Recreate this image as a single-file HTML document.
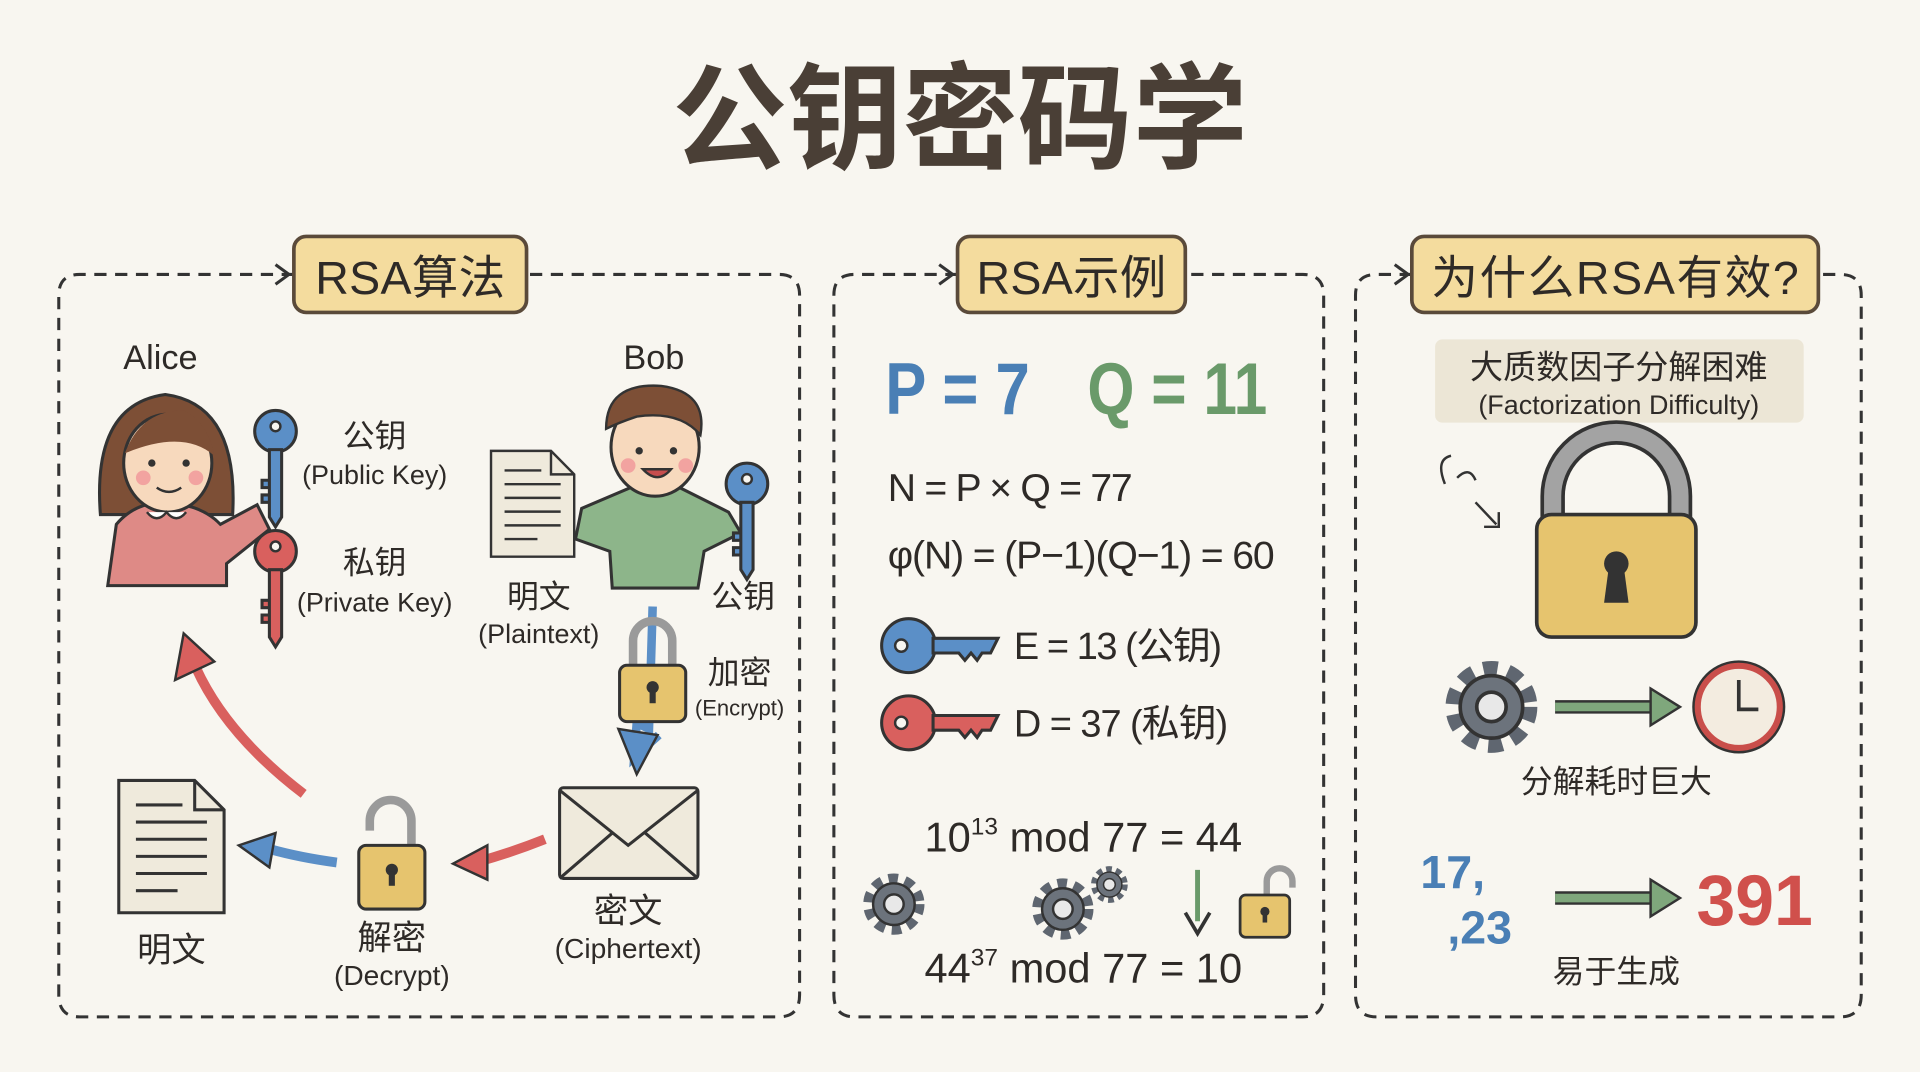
<!DOCTYPE html>
<html><head><meta charset="utf-8"><style>
html,body{margin:0;padding:0;background:#f8f6f0;}
svg{display:block}
text{font-family:"Liberation Sans","Noto Sans CJK SC",sans-serif;fill:#2e2a27}
</style></head><body>
<svg width="1920" height="1072" viewBox="0 0 1568 875" preserveAspectRatio="none" xmlns="http://www.w3.org/2000/svg">
<defs>
<g id="gear"><circle r="19" fill="none" stroke="#5f6670" stroke-width="12" stroke-dasharray="7 5.2"/><circle r="17" fill="#6c737c" stroke="#333" stroke-width="2"/><circle r="8" fill="#e8e8e8" stroke="#333" stroke-width="2"/></g>
<g id="lock"><path d="M-16,0 V-22 A16,16 0 0 1 16,-22 V0" fill="none" stroke="#9a9a9a" stroke-width="7"/><rect x="-27" y="-2" width="54" height="46" rx="6" fill="#e6c46e" stroke="#333" stroke-width="2.5"/><circle cx="0" cy="16" r="5" fill="#333"/><rect x="-2.5" y="17" width="5" height="12" fill="#333"/></g>
<g id="doc"><path d="M0,0 H62 L86,24 V108 H0 Z" fill="#efeadc" stroke="#333" stroke-width="2.5"/><path d="M62,0 V24 H86" fill="none" stroke="#333" stroke-width="2.5"/><g stroke="#333" stroke-width="2.5"><line x1="14" y1="20" x2="52" y2="20"/><line x1="14" y1="34" x2="72" y2="34"/><line x1="14" y1="48" x2="72" y2="48"/><line x1="14" y1="62" x2="72" y2="62"/><line x1="14" y1="76" x2="72" y2="76"/><line x1="14" y1="90" x2="48" y2="90"/></g></g>
<g id="hkey"><circle cx="0" cy="0" r="22" stroke="#333" stroke-width="2.5"/><circle cx="-6" cy="0" r="5" fill="#f8f6f0" stroke="#333" stroke-width="2"/><path d="M20,-6 H73 L67,6 H60 L56,12 L51,6 L46,12 L41,6 H20 Z" stroke="#333" stroke-width="2.5"/></g>
<g id="vkey"><circle cx="0" cy="0" r="17" stroke="#333" stroke-width="2.5"/><circle cx="0" cy="-4" r="4" fill="#f8f6f0" stroke="#333" stroke-width="2"/><path d="M-5,15 V70 L0,78 L5,70 V15 Z M-5,40 H-11 V46 H-5 M-5,52 H-11 V58 H-5" stroke="#333" stroke-width="2.5"/></g>
</defs>
<rect width="1568" height="875" fill="#f8f6f0"/>
<text x="784" y="130" font-size="94" font-weight="bold" text-anchor="middle" style="fill:#4a3f36">公钥密码学</text>

<g fill="none" stroke="#333" stroke-width="2.5" stroke-dasharray="10 7">
<path d="M240,224 H65 Q48,224 48,241 V812 Q48,830 65,830 H636 Q653,830 653,812 V241 Q653,224 636,224 H430"/>
<path d="M782,224 H698 Q681,224 681,241 V812 Q681,830 698,830 H1064 Q1081,830 1081,812 V241 Q1081,224 1064,224 H968"/>
<path d="M1153,224 H1124 Q1107,224 1107,241 V812 Q1107,830 1124,830 H1503 Q1520,830 1520,812 V241 Q1520,224 1503,224 H1485"/>
</g>
<g fill="none" stroke="#333" stroke-width="2.5"><path d="M225,216 L236,224 L225,232"/><path d="M767,216 L778,224 L767,232"/><path d="M1139,216 L1150,224 L1139,232"/></g>
<g fill="#f4dc9e" stroke="#5a4a3a" stroke-width="3">
<rect x="240" y="193" width="190" height="62" rx="10"/><rect x="782" y="193" width="186" height="62" rx="10"/><rect x="1153" y="193" width="332" height="62" rx="10"/></g>
<text x="335" y="240" font-size="38" text-anchor="middle" textLength="155">RSA算法</text>
<text x="875" y="240" font-size="38" text-anchor="middle" textLength="155">RSA示例</text>
<text x="1319" y="240" font-size="38" text-anchor="middle" textLength="300">为什么RSA有效?</text>

<text x="131" y="301" font-size="28" text-anchor="middle">Alice</text>
<text x="534" y="301" font-size="28" text-anchor="middle">Bob</text>
<path d="M82,420 Q75,330 135,322 Q195,330 190,420 Z" fill="#7d4f36" stroke="#333" stroke-width="2.5"/>
<path d="M88,478 L95,428 Q110,410 135,410 Q165,412 180,428 L210,412 L220,432 L185,460 L185,478 Z" fill="#de8a86" stroke="#333" stroke-width="2.5"/>
<ellipse cx="137" cy="378" rx="36" ry="40" fill="#f7d9bd" stroke="#333" stroke-width="2.5"/>
<path d="M102,370 Q115,335 150,335 Q170,345 175,372 Q150,350 102,370Z" fill="#7d4f36"/>
<circle cx="124" cy="378" r="3" fill="#333"/><circle cx="152" cy="378" r="3" fill="#333"/>
<circle cx="117" cy="390" r="6" fill="#f2a3a0"/><circle cx="160" cy="390" r="6" fill="#f2a3a0"/>
<path d="M128,398 Q138,405 148,398" fill="none" stroke="#333" stroke-width="2"/>
<path d="M120,418 Q128,428 136,418 Q144,428 152,418" fill="#fff" stroke="#333" stroke-width="2"/>
<use href="#vkey" x="225" y="352" fill="#5b8fc7"/>
<use href="#vkey" x="225" y="450" fill="#d9605e"/>
<text x="306" y="365" font-size="26" text-anchor="middle">公钥</text>
<text x="306" y="395" font-size="22" text-anchor="middle">(Public Key)</text>
<text x="306" y="468" font-size="26" text-anchor="middle">私钥</text>
<text x="306" y="499" font-size="22" text-anchor="middle">(Private Key)</text>
<g transform="translate(401,368) scale(0.79,0.8)"><use href="#doc"/></g>
<path d="M475,415 L515,398 Q535,392 555,398 L595,418 L605,435 L575,450 L570,480 L500,480 L498,450 L470,440 Z" fill="#8db58a" stroke="#333" stroke-width="2.5"/>
<ellipse cx="535" cy="365" rx="36" ry="40" fill="#f7d9bd" stroke="#333" stroke-width="2.5"/>
<path d="M495,350 Q495,312 540,315 Q578,320 572,355 Q555,335 520,340 Q505,345 495,350Z" fill="#7d4f36" stroke="#333" stroke-width="2"/>
<circle cx="522" cy="368" r="3" fill="#333"/><circle cx="550" cy="368" r="3" fill="#333"/>
<circle cx="513" cy="380" r="6" fill="#f2a3a0"/><circle cx="560" cy="380" r="6" fill="#f2a3a0"/>
<path d="M525,383 Q537,396 548,383 Z" fill="#c74e4e" stroke="#333" stroke-width="2"/>
<use href="#vkey" x="610" y="395" fill="#5b8fc7"/>
<text x="440" y="496" font-size="26" text-anchor="middle">明文</text>
<text x="440" y="525" font-size="22" text-anchor="middle">(Plaintext)</text>
<text x="607" y="496" font-size="26" text-anchor="middle">公钥</text>
<path d="M533,495 L530,595 L520,590 L518,618 L538,600" fill="none" stroke="#5b8fc7" stroke-width="7"/>
<path d="M505,595 L520,632 L537,600 Z" fill="#5b8fc7" stroke="#333" stroke-width="2"/>
<use href="#lock" x="533" y="545"/>
<text x="604" y="558" font-size="26" text-anchor="middle">加密</text>
<text x="604" y="584" font-size="18" text-anchor="middle">(Encrypt)</text>
<rect x="457" y="643" width="113" height="74" rx="3" fill="#efeadc" stroke="#333" stroke-width="2.5"/>
<path d="M457,645 L513,690 L570,645 M457,717 L500,680 M570,717 L527,680" fill="none" stroke="#333" stroke-width="2.5"/>
<text x="513" y="753" font-size="28" text-anchor="middle">密文</text>
<text x="513" y="782" font-size="23" text-anchor="middle">(Ciphertext)</text>
<path d="M445,685 Q420,695 392,703" fill="none" stroke="#d9605e" stroke-width="8"/>
<path d="M398,690 L370,705 L398,718 Z" fill="#d9605e" stroke="#333" stroke-width="2"/>
<g transform="translate(320,700)"><path d="M-14,0 V-30 A17,17 0 0 0 -48,-30 V-22" fill="none" stroke="#9a9a9a" stroke-width="7" transform="translate(30,0)"/><rect x="-27" y="-10" width="54" height="52" rx="6" fill="#e6c46e" stroke="#333" stroke-width="2.5"/><circle cx="0" cy="10" r="5" fill="#333"/><rect x="-2.5" y="11" width="5" height="12" fill="#333"/></g>
<text x="320" y="775" font-size="28" text-anchor="middle">解密</text>
<text x="320" y="804" font-size="23" text-anchor="middle">(Decrypt)</text>
<path d="M275,704 Q245,700 220,693" fill="none" stroke="#5b8fc7" stroke-width="8"/>
<path d="M225,680 L195,690 L220,708 Z" fill="#5b8fc7" stroke="#333" stroke-width="2"/>
<use href="#doc" x="97" y="637"/>
<text x="140" y="785" font-size="28" text-anchor="middle">明文</text>
<path d="M248,648 Q185,600 160,545" fill="none" stroke="#d9605e" stroke-width="8"/>
<path d="M143,555 L150,517 L175,540 Z" fill="#d9605e" stroke="#333" stroke-width="2"/>

<text x="723" y="338" font-size="60" style="fill:#4a7fb5" font-weight="bold" textLength="118" lengthAdjust="spacingAndGlyphs">P = 7</text>
<text x="888" y="338" font-size="60" style="fill:#6a9a6a" font-weight="bold" textLength="147" lengthAdjust="spacingAndGlyphs">Q = 11</text>
<text x="725" y="409" font-size="32" textLength="200">N = P × Q = 77</text>
<text x="725" y="464" font-size="32" textLength="316">φ(N) = (P−1)(Q−1) = 60</text>
<use href="#hkey" x="742" y="527" fill="#5b8fc7"/>
<text x="828" y="538" font-size="31" textLength="170">E = 13 (公钥)</text>
<use href="#hkey" x="742" y="590" fill="#d9605e"/>
<text x="828" y="601" font-size="31" textLength="175">D = 37 (私钥)</text>
<text x="755" y="695" font-size="34">10<tspan font-size="20" dy="-14">13</tspan><tspan dy="14"> mod 77 = 44</tspan></text>
<use href="#gear" x="730" y="738"/>
<use href="#gear" x="868" y="742"/>
<g transform="translate(906,722) scale(0.6)"><use href="#gear"/></g>
<path d="M978,710 V752" stroke="#6a9a6a" stroke-width="4"/><path d="M968,745 L978,762 L988,745" fill="none" stroke="#333" stroke-width="3"/>
<g transform="translate(1033,738) scale(0.75)"><path d="M2,-10 V-25 A14,14 0 0 1 30,-25 V-18" fill="none" stroke="#9a9a9a" stroke-width="7"/><rect x="-27" y="-10" width="54" height="46" rx="6" fill="#e6c46e" stroke="#333" stroke-width="3"/><circle cx="0" cy="8" r="5" fill="#333"/><rect x="-2.5" y="9" width="5" height="11" fill="#333"/></g>
<text x="755" y="802" font-size="34">44<tspan font-size="20" dy="-14">37</tspan><tspan dy="14"> mod 77 = 10</tspan></text>

<rect x="1172" y="277" width="301" height="68" rx="6" fill="#ece6d6"/>
<text x="1322" y="309" font-size="27" text-anchor="middle">大质数因子分解困难</text>
<text x="1322" y="338" font-size="22" text-anchor="middle">(Factorization Difficulty)</text>
<path d="M1268,425 V405 A52,52 0 0 1 1372,405 V425" fill="none" stroke="#333" stroke-width="20"/>
<path d="M1268,425 V405 A52,52 0 0 1 1372,405 V425" fill="none" stroke="#a3a3a3" stroke-width="14"/>
<rect x="1255" y="420" width="130" height="100" rx="12" fill="#e6c46e" stroke="#333" stroke-width="3"/>
<circle cx="1320" cy="460" r="10" fill="#333"/><path d="M1314,462 L1310,492 H1330 L1326,462Z" fill="#333"/>
<path d="M1180,395 Q1172,375 1185,372 M1190,390 Q1200,380 1205,392 M1205,410 L1222,428 M1212,430 H1224 V418" fill="none" stroke="#333" stroke-width="2"/>
<g transform="translate(1218,577) scale(1.5)"><use href="#gear"/></g>
<path d="M1270,577 H1350" stroke="#333" stroke-width="11"/><path d="M1270,577 H1350" stroke="#7fa77c" stroke-width="7"/>
<path d="M1348,562 L1372,577 L1348,592 Z" fill="#7fa77c" stroke="#333" stroke-width="2"/>
<circle cx="1420" cy="577" r="34" fill="#f3ece0" stroke="#c94e4a" stroke-width="6"/>
<circle cx="1420" cy="577" r="37" fill="none" stroke="#333" stroke-width="2"/>
<path d="M1420,555 V579 H1436" fill="none" stroke="#333" stroke-width="3"/>
<text x="1320" y="647" font-size="26" text-anchor="middle">分解耗时巨大</text>
<text x="1160" y="725" font-size="38" style="fill:#4a7fb5" font-weight="bold">17,</text>
<text x="1182" y="770" font-size="38" style="fill:#4a7fb5" font-weight="bold">,23</text>
<path d="M1270,733 H1350" stroke="#333" stroke-width="11"/><path d="M1270,733 H1350" stroke="#7fa77c" stroke-width="7"/>
<path d="M1348,718 L1372,733 L1348,748 Z" fill="#7fa77c" stroke="#333" stroke-width="2"/>
<text x="1433" y="755" font-size="58" text-anchor="middle" style="fill:#d0504c" font-weight="bold" textLength="95" lengthAdjust="spacingAndGlyphs">391</text>
<text x="1320" y="802" font-size="26" text-anchor="middle">易于生成</text>
</svg>
</body></html>
